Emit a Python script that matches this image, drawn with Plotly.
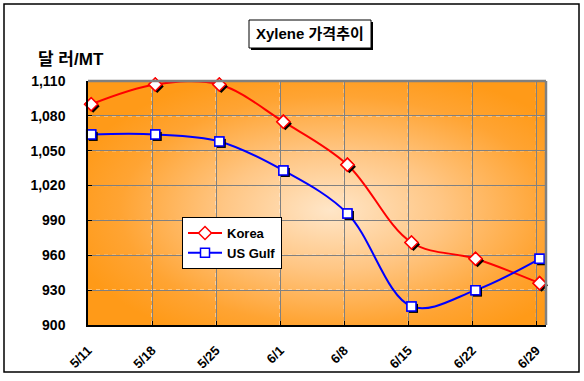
import base64
import plotly.graph_objects as go

# ---- data ----
dates = ["5/11", "5/18", "5/25", "6/1", "6/8", "6/15", "6/22", "6/29"]
korea = [1090, 1107, 1107, 1075, 1038, 971, 957, 936]
us_gulf = [1064, 1064, 1058, 1033, 996, 916, 930, 957]
y_ticks = [900, 930, 960, 990, 1020, 1050, 1080, 1110]

W, H = 584, 381
L, R, T, B = 88, 546, 81, 325
pw, ph = R - L, B - T

xr = [-0.05, 7.1]
yr = [900, 1110]
xu = (xr[1] - xr[0]) / pw  # data units per px
yu = (yr[1] - yr[0]) / ph
tick_off = 0.05
SH = 2  # shadow offset px

xi = list(range(len(dates)))
xt = [i - tick_off for i in xi]

svg = f'''<svg xmlns="http://www.w3.org/2000/svg" width="{pw}" height="{ph}" viewBox="0 0 {pw} {ph}" preserveAspectRatio="none">
<defs><radialGradient id="g" cx="0.54" cy="0.53" r="0.6" fx="0.53" fy="0.53">
<stop offset="0" stop-color="#FFE6C8"/>
<stop offset="0.4" stop-color="#FFC684"/>
<stop offset="0.78" stop-color="#FFA433"/>
<stop offset="1" stop-color="#FF9A18"/>
</radialGradient></defs>
<rect width="{pw}" height="{ph}" fill="url(#g)"/></svg>'''
src = "data:image/svg+xml;base64," + base64.b64encode(svg.encode()).decode()

fig = go.Figure()

series = [("Korea", korea, "#FF0000", "diamond", 10), ("US Gulf", us_gulf, "#0000FF", "square", 9)]

# lines on base axes
for name, vals, col, sym, sz in series:
    fig.add_trace(go.Scatter(
        x=xi, y=vals, name=name, mode="lines+markers", cliponaxis=False,
        line=dict(color=col, width=2, shape="spline", smoothing=1),
        marker=dict(symbol=sym, size=sz, color="white", line=dict(color=col, width=1.5))))

# marker shadows on shifted overlay axes (x2/y2)
for name, vals, col, sym, sz in series:
    fig.add_trace(go.Scatter(
        x=xi, y=vals, xaxis="x2", yaxis="y2", mode="markers", showlegend=False,
        hoverinfo="skip", cliponaxis=False,
        marker=dict(symbol=sym, size=sz, color="black", line=dict(width=0))))

# markers redrawn on top (x3/y3)
for name, vals, col, sym, sz in series:
    fig.add_trace(go.Scatter(
        x=xi, y=vals, xaxis="x3", yaxis="y3", mode="markers", showlegend=False,
        hoverinfo="skip", cliponaxis=False,
        marker=dict(symbol=sym, size=sz, color="white", line=dict(color=col, width=1.5))))

shapes = []
# white dashes over gray gridlines
for v in y_ticks[1:-1]:
    shapes.append(dict(type="line", xref="paper", yref="y", x0=0, x1=1, y0=v, y1=v,
                       line=dict(color="white", width=1, dash="4px,4px"), layer="between"))
for t in xt[1:]:
    shapes.append(dict(type="line", xref="x", yref="paper", x0=t, x1=t, y0=0, y1=1,
                       line=dict(color="white", width=1, dash="4px,4px"), layer="between"))
# plot border top/right gray
shapes.append(dict(type="line", xref="paper", yref="paper", x0=0, x1=1, y0=1, y1=1,
                   line=dict(color="#808080", width=2.5)))
shapes.append(dict(type="line", xref="paper", yref="paper", x0=1, x1=1, y0=0, y1=1,
                   line=dict(color="#808080", width=2.5)))
# outer chart border
shapes.append(dict(type="rect", xref="paper", yref="paper",
                   x0=(4 - L) / pw, x1=(579 - L) / pw, y0=(B - 372) / ph, y1=(B - 4) / ph,
                   line=dict(color="black", width=1.5)))
# title box shadow
bx0, bx1, by0, by1 = 249, 371, 20, 48
shapes.append(dict(type="rect", xref="paper", yref="paper",
                   x0=(bx0 + 2 - L) / pw, x1=(bx1 + 2 - L) / pw,
                   y0=(B - by1 - 2) / ph, y1=(B - by0 - 2) / ph,
                   fillcolor="black", line=dict(width=0)))
shapes.append(dict(type="rect", xref="paper", yref="paper",
                   x0=(bx0 - L) / pw, x1=(bx1 - L) / pw,
                   y0=(B - by1) / ph, y1=(B - by0) / ph,
                   fillcolor="white", line=dict(color="black", width=1)))

annotations = [
    dict(text="Xylene 가격추이", xref="paper", yref="paper",
         x=((bx0 + bx1) / 2 - L) / pw, y=(B - (by0 + by1) / 2) / ph, showarrow=False,
         xanchor="center", yanchor="middle",
         font=dict(family="Arial, Noto Sans CJK KR", size=15, color="black", weight="bold")),
    dict(text="달 러/MT", xref="paper", yref="paper", x=(36 - L) / pw, y=(B - 59) / ph,
         xanchor="left", yanchor="middle", showarrow=False,
         font=dict(family="Arial, Noto Sans CJK KR", size=17, color="black", weight="bold")),
]

fig.update_layout(
    width=W, height=H, margin=dict(l=L, r=W - R, t=T, b=H - B, pad=0, autoexpand=False),
    paper_bgcolor="white", plot_bgcolor="rgba(0,0,0,0)",
    images=[dict(source=src, xref="paper", yref="paper", x=0, y=1, sizex=1, sizey=1,
                 sizing="stretch", layer="below", xanchor="left", yanchor="top")],
    xaxis=dict(range=xr, tickmode="array", tickvals=xt, ticktext=dates, tickangle=-45,
               showgrid=True, gridcolor="#808080", gridwidth=1, zeroline=False,
               showline=True, linecolor="black", linewidth=1.5, ticks="inside", ticklen=4,
               tickcolor="black", ticklabelstandoff=11, automargin=False,
               tickfont=dict(family="Arial", size=13, color="black", weight="bold")),
    yaxis=dict(range=yr, tickmode="array", tickvals=y_ticks, tickformat=",",
               showgrid=True, gridcolor="#808080", gridwidth=1, zeroline=False,
               showline=True, linecolor="black", linewidth=1.5, ticks="inside", ticklen=4,
               tickcolor="black", ticklabelstandoff=18, automargin=False,
               tickfont=dict(family="Arial", size=14, color="black", weight="bold")),
    xaxis2=dict(overlaying="x", range=[xr[0] - SH * xu, xr[1] - SH * xu], visible=False),
    yaxis2=dict(overlaying="y", range=[yr[0] + SH * yu, yr[1] + SH * yu], visible=False),
    xaxis3=dict(overlaying="x", range=xr, visible=False),
    yaxis3=dict(overlaying="y", range=yr, visible=False),
    legend=dict(x=(182 - L) / pw, y=(B - 217) / ph, xanchor="left", yanchor="top",
                bgcolor="white", bordercolor="black", borderwidth=1,
                font=dict(family="Arial", size=13, color="black", weight="bold"),
                tracegroupgap=0, itemwidth=34),
    shapes=shapes, annotations=annotations, showlegend=True,
)

fig.write_html("out.html")
